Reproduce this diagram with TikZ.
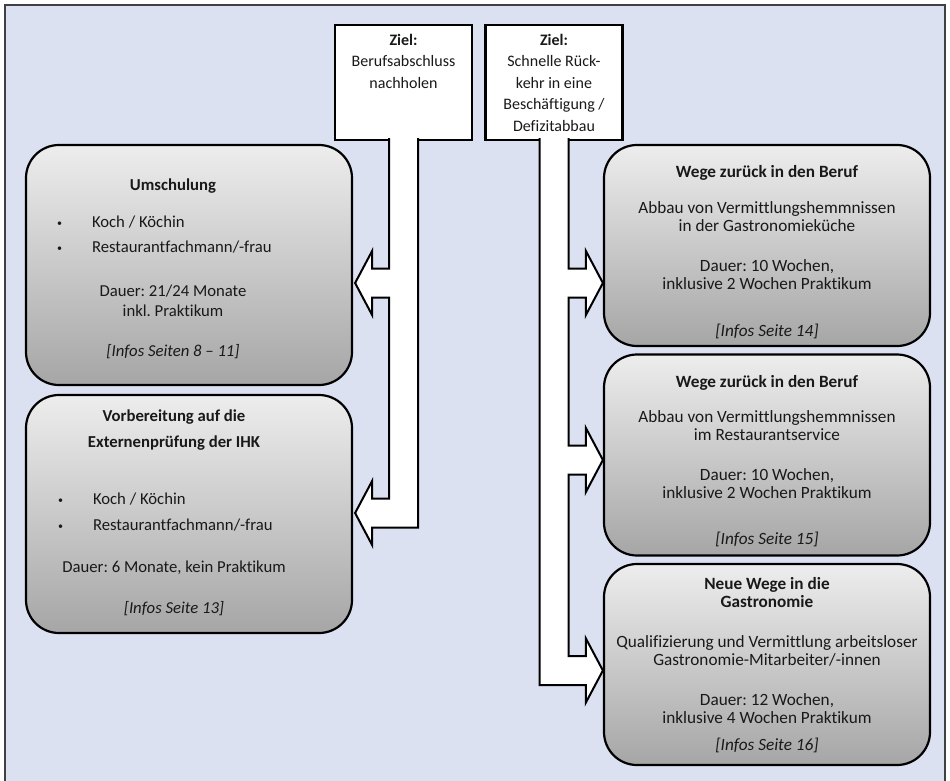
\documentclass[tikz,border=0pt]{standalone}
\usepackage{fontspec}
\setmainfont{Carlito}[Ligatures=NoCommon]
\usepackage{xcolor}
\usepackage{tikz}
\usetikzlibrary{positioning, calc}
\definecolor{hintergrund}{RGB}{220,225,242}
\frenchspacing
\tikzset{
    kasten/.style={
        rectangle,
        rounded corners=33pt,
        line width=2.2pt,
        draw=black,
        top color=black!7,
        bottom color=black!35,
        minimum width=326pt,
    },
    zielkasten/.style={
        rectangle,
        line width=2.2pt,
        draw=black,
        fill=white,
        minimum width=137pt,
        minimum height=115pt,
        align=center,
        text=black!90,
        font=\fontsize{16}{21.5}\selectfont,
    },
    inhalt/.style={
        align=center,
        text=black!90,
        inner sep=0pt,
    },
    pfeil/.style={
        line width=2pt,
        draw=black,
        fill=white,
        line join=miter,
    },
}
\newcommand{\punkt}[1]{\makebox[228pt][l]{\hspace*{-2pt}\makebox[35pt][l]{\raisebox{1pt}{\fontsize{10}{10}\selectfont\textbullet}}#1}}

\begin{document}
\begin{tikzpicture}[x=1pt, y=-1pt, on grid]
    \useasboundingbox (0,0) rectangle (950,781);
    \fill[hintergrund] (5,5) rectangle (945,781);
    \draw[black!75, line width=1.5pt] (5,781) -- (5,5) -- (945,5) -- (945,781);

    % Ziele
    \node[zielkasten] (ziel1) at (403.5,82.5) {\textbf{Ziel:}\\Berufsabschluss\\nachholen\\~\\~};
    \node[zielkasten, right=150.5pt of ziel1] (ziel2) {\textbf{Ziel:}\\Schnelle Rück-\\kehr in eine\\Beschäftigung /\\Defizitabbau};

    % Angebote links
    \node[kasten, minimum height=240pt] (umsch) at (189,265) {};
    \node[kasten, minimum height=238pt, below=249pt of umsch] (vorb) {};

    % Angebote rechts
    \node[kasten, minimum height=201pt] (wege1) at (767,245.5) {};
    \node[kasten, minimum height=201pt, below=209.5pt of wege1] (wege2) {};
    \node[kasten, minimum height=201pt, below=209.5pt of wege2] (neu) {};

    \node[inhalt, font=\fontsize{16.7}{20}\selectfont] (umschtext) at ($(umsch)+(-16,3.5)$) {\textbf{Umschulung}\\[17pt]\punkt{Koch / Köchin}\\[5pt]\punkt{Restaurantfachmann/-frau}\\[24pt]Dauer: 21/24 Monate\\inkl. Praktikum\\[20pt]\textit{[Infos Seiten 8 – 11]}};
    \node[inhalt, font=\fontsize{16.7}{20}\selectfont] (vorbtext) at ($(vorb)+(-15,-1.5)$) {\textbf{Vorbereitung auf die}\\[6pt]\textbf{Externenprüfung der IHK}\\[37pt]\punkt{Koch / Köchin}\\[6pt]\punkt{Restaurantfachmann/-frau}\\[22pt]Dauer: 6 Monate, kein Praktikum\\[21pt]\textit{[Infos Seite 13]}};

    \node[inhalt, font=\fontsize{17.2}{18}\selectfont] (wege1text) at ($(wege1)+(0,6.5)$) {\textbf{Wege zurück in den Beruf}\\[18pt]Abbau von Vermittlungshemmnissen\\in der Gastronomieküche\\[22pt]Dauer: 10 Wochen,\\inklusive 2 Wochen Praktikum\\[29pt]\textit{[Infos Seite 14]}};
    \node[inhalt, font=\fontsize{17.2}{18}\selectfont] (wege2text) at ($(wege2)+(0,6.5)$) {\textbf{Wege zurück in den Beruf}\\[17pt]Abbau von Vermittlungshemmnissen\\im Restaurantservice\\[22pt]Dauer: 10 Wochen,\\inklusive 2 Wochen Praktikum\\[28pt]\textit{[Infos Seite 15]}};
    \node[inhalt, font=\fontsize{17.2}{18}\selectfont] (neutext) at ($(neu)+(0,1)$) {\textbf{Neue Wege in die}\\\textbf{Gastronomie}\\[22pt]Qualifizierung und Vermittlung arbeitsloser\\Gastronomie-Mitarbeiter/-innen\\[22pt]Dauer: 12 Wochen,\\inklusive 4 Wochen Praktikum\\[9pt]\textit{[Infos Seite 16]}};

    % Pfeile
    \coordinate (s1) at ($(ziel1.south)+(-14.5,-3)$);
    \coordinate (s2) at ($(ziel1.south)+(14.5,-3)$);
    \coordinate (k1) at ($(umsch.east)+(2,18)$);
    \coordinate (k2) at ($(vorb.east)+(2,-1)$);
    \coordinate (r1) at ($(ziel2.south)+(-14.5,-3)$);
    \coordinate (r2) at ($(ziel2.south)+(14.5,-3)$);
    \coordinate (m1) at ($(wege1.west)+(0,37.5)$);
    \coordinate (m2) at ($(wege2.west)+(0,5)$);
    \coordinate (m3) at ($(neu.west)+(0,6)$);

    \filldraw[pfeil] (s1) |- ($(k1)+(17,-14.5)$) -- ++(0,-17.5) -- (k1) -- ++(17,32) -- ++(0,-17.5)
        -| ($(s1 |- k2)+(0,-14.5)$) -- ($(k2)+(17,-14.5)$) -- ++(0,-17.5) -- (k2) -- ++(17,32) -- ++(0,-17.5) -| (s2);

    \filldraw[pfeil] (r1) |- ($(m3)+(-17,14.5)$) -- ++(0,17.5) -- (m3) -- ++(-17,-32) -- ++(0,17.5)
        -| ($(r2 |- m2)+(0,14.5)$) -- ($(m2)+(-17,14.5)$) -- ++(0,17.5) -- (m2) -- ++(-17,-32) -- ++(0,17.5)
        -| ($(r2 |- m1)+(0,14.5)$) -- ($(m1)+(-17,14.5)$) -- ++(0,17.5) -- (m1) -- ++(-17,-32) -- ++(0,17.5) -| (r2);
\end{tikzpicture}
\end{document}
